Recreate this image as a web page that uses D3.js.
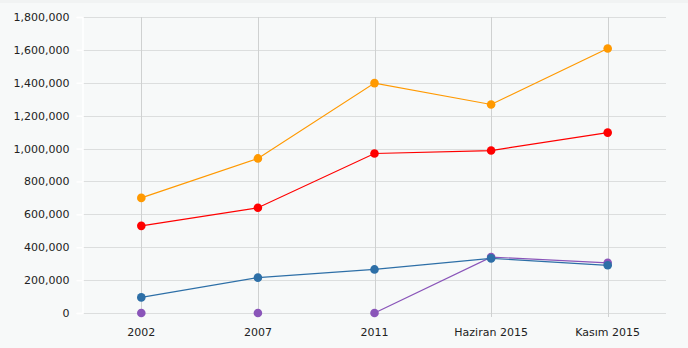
<!DOCTYPE html>
<html>
<head>
<meta charset="utf-8">
<script src="https://cdn.jsdelivr.net/npm/d3@7"></script>
<style>
  html, body { margin: 0; padding: 0; background: #f7f9f9; }
  svg { display: block; }
  text { font-family: "DejaVu Sans", Verdana, sans-serif; font-size: 11px; fill: #222; }
</style>
</head>
<body>
<svg id="chart" width="688" height="348"></svg>
<script>
const categories = ["2002", "2007", "2011", "Haziran 2015", "Kasım 2015"];
const yTicks = [0, 200000, 400000, 600000, 800000, 1000000, 1200000, 1400000, 1600000, 1800000];
const seriesNames = ["purple", "blue", "red", "orange"];
const purpleValues = [null, null, 0, 340000, 305000];
const blueValues = [95000, 215000, 265000, 332000, 290000];
const redValues = [530000, 640000, 970000, 988000, 1097000];
const orangeValues = [700000, 940000, 1398000, 1268000, 1608000];
const seriesColors = ["#8a55b9", "#2d6fa7", "#ff0000", "#ff9900"];

const series = [purpleValues, blueValues, redValues, orangeValues];

const W = 688, H = 348;
const margin = { left: 83, right: 22, top: 17, bottom: 35 };
const svg = d3.select("#chart");

svg.append("rect").attr("x", 0).attr("y", 0).attr("width", W).attr("height", 3).attr("fill", "#f1f3f3");

const x = d3.scaleBand().domain(categories).range([margin.left, W - margin.right]).padding(0);
const y = d3.scaleLinear().domain([0, 1800000]).range([H - margin.bottom, margin.top]);
const cx = c => x(c) + x.bandwidth() / 2;

// horizontal grid
svg.append("g").selectAll("line").data(yTicks).join("line")
  .attr("x1", margin.left).attr("x2", W - margin.right)
  .attr("y1", d => Math.round(y(d)) + 0.5).attr("y2", d => Math.round(y(d)) + 0.5)
  .attr("stroke", "#dcdede").attr("stroke-width", 1);

// vertical grid
svg.append("g").selectAll("line").data(categories).join("line")
  .attr("x1", d => Math.round(cx(d)) + 0.5).attr("x2", d => Math.round(cx(d)) + 0.5)
  .attr("y1", margin.top).attr("y2", H - margin.bottom + 4)
  .attr("stroke", "#cfd1d1").attr("stroke-width", 1);

// y axis
const yAxis = d3.axisLeft(y).tickValues(yTicks).tickSize(6).tickPadding(7)
  .tickFormat(d3.format(","));
const gy = svg.append("g").attr("transform", `translate(${margin.left - 0.5},0)`).call(yAxis);
gy.select(".domain").attr("stroke", "#ffffff").attr("stroke-width", 1.5);
gy.selectAll(".tick line").attr("stroke", "#ffffff").attr("stroke-width", 1.5);
gy.selectAll("text").style("font-family", "DejaVu Sans, Verdana, sans-serif").style("font-size", "11px").attr("fill", "#222");

// x axis
const xAxis = d3.axisBottom(x).tickSize(0).tickPadding(15);
const gx = svg.append("g").attr("transform", `translate(0,${H - margin.bottom})`).call(xAxis);
gx.select(".domain").remove();
gx.selectAll("text").style("font-family", "DejaVu Sans, Verdana, sans-serif").style("font-size", "11px").attr("fill", "#222");

// lines and dots
const line = d3.line()
  .defined(d => d.v != null)
  .x(d => cx(d.c)).y(d => y(d.v));

series.forEach((vals, i) => {
  const pts = vals.map((v, j) => ({ c: categories[j], v }));
  svg.append("path").datum(pts)
    .attr("fill", "none").attr("stroke", seriesColors[i]).attr("stroke-width", 1.2)
    .attr("d", line);
  svg.append("g").selectAll("circle").data(pts).join("circle")
    .attr("cx", d => cx(d.c)).attr("cy", d => y(d.v == null ? 0 : d.v))
    .attr("r", 4.3).attr("fill", seriesColors[i]);
});
</script>
</body>
</html>
